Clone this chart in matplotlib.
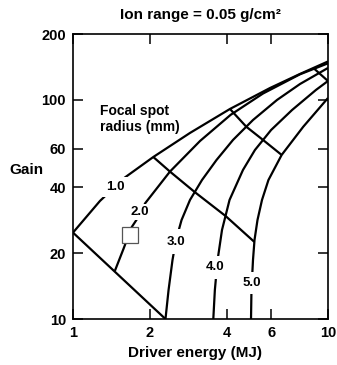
import matplotlib
matplotlib.use('Agg')
import matplotlib.pyplot as plt
from matplotlib.ticker import FixedLocator, NullLocator, FixedFormatter

plt.rcParams['font.family'] = ['Liberation Sans', 'DejaVu Sans']

# Gain curves for each focal spot radius (driver energy MJ, gain)
r1_energy = [1.0, 1.276, 1.599, 2.065, 2.876, 4.128, 5.925, 7.77, 10.0]
r1_gain = [24.8, 34.6, 44.3, 54.9, 70.7, 91.0, 113.4, 131.5, 149.9]

r2_energy = [1.46, 1.575, 1.70, 1.79, 1.92, 2.40, 3.15, 4.15, 5.56, 7.77, 10.0]
r2_gain = [16.6, 20.8, 26.3, 28.8, 33.8, 47.1, 65.0, 85.5, 107, 131, 147]

r3_energy = [2.305, 2.37, 2.456, 2.535, 2.665, 2.876, 3.205, 3.654, 4.242, 5.08, 6.31, 7.77, 10.0]
r3_gain = [10.0, 13.56, 18.6, 22.95, 28.3, 34.95, 43.1, 53.2, 65.7, 81.0, 100, 118.3, 140]

r4_energy = [3.55, 3.60, 3.69, 3.84, 4.11, 4.64, 5.17, 5.98, 7.23, 8.97, 10.0]
r4_gain = [10.0, 13.56, 18.6, 25.5, 34.95, 47.9, 59.1, 72.9, 90.0, 111.1, 122.1]

r5_energy = [4.99, 5.01, 5.08, 5.15, 5.29, 5.51, 5.84, 6.58, 8.0, 10.0]
r5_gain = [10.0, 13.56, 18.6, 22.95, 28.3, 34.95, 43.1, 56.1, 75.5, 102.1]

# cross lines joining the curves
lineA_energy = [1.0, 2.305]
lineA_gain = [24.8, 10.0]
lineB_energy = [2.065, 2.40, 3.0, 3.97, 5.14]
lineB_gain = [54.9, 47.1, 38.0, 29.5, 22.5]
lineC_energy = [4.128, 4.25, 4.78, 5.56, 6.58]
lineC_gain = [91.0, 87.6, 75.5, 65.7, 56.1]
lineD_energy = [8.76, 10.0]
lineD_gain = [140, 122]

curve_labels = ['1.0', '2.0', '3.0', '4.0', '5.0']
label_energy = [1.46, 1.83, 2.54, 3.62, 5.02]
label_gain = [40.2, 30.9, 22.5, 17.2, 14.6]
label_pads = [0.3, 0.15, 0.5, 0.4, 0.4]

square_energy = [1.67]
square_gain = [24.2]

x_ticks = [1, 2, 4, 6, 10]
y_ticks = [10, 20, 40, 60, 100, 200]

fig = plt.figure(figsize=(3.37, 3.65), dpi=100)
ax = fig.add_axes([0.2166, 0.126, 0.7567, 0.7808])
ax.set_xscale('log')
ax.set_yscale('log')
ax.set_xlim(1, 10)
ax.set_ylim(10, 200)

for xs, ys in [(r1_energy, r1_gain), (r2_energy, r2_gain), (r3_energy, r3_gain),
               (r4_energy, r4_gain), (r5_energy, r5_gain),
               (lineA_energy, lineA_gain), (lineB_energy, lineB_gain),
               (lineC_energy, lineC_gain), (lineD_energy, lineD_gain)]:
    ax.plot(xs, ys, color='black', lw=1.6, solid_joinstyle='round',
            solid_capstyle='butt', zorder=2)

for lab, lx, ly, p in zip(curve_labels, label_energy, label_gain, label_pads):
    ax.text(lx, ly, lab, ha='center', va='center', fontsize=9.5,
            fontweight='bold', zorder=4,
            bbox=dict(boxstyle='square,pad=%s' % p, fc='white', ec='none'))

ax.plot(square_energy, square_gain, marker='s', ms=12, mfc='white',
        mec='#555555', mew=0.9, ls='none', zorder=5)

ax.text(1.28, 82, 'Focal spot\nradius (mm)', ha='left', va='center',
        fontsize=10, fontweight='bold', linespacing=1.15)

ax.xaxis.set_major_locator(FixedLocator(x_ticks))
ax.xaxis.set_major_formatter(FixedFormatter([str(t) for t in x_ticks]))
ax.xaxis.set_minor_locator(NullLocator())
ax.yaxis.set_major_locator(FixedLocator(y_ticks))
ax.yaxis.set_major_formatter(FixedFormatter([str(t) for t in y_ticks]))
ax.yaxis.set_minor_locator(NullLocator())

ax.tick_params(direction='in', length=7, width=1.1, top=True, right=True,
               labelsize=10.5, pad=5)
for lbl in ax.get_xticklabels() + ax.get_yticklabels():
    lbl.set_fontweight('bold')
for sp in ax.spines.values():
    sp.set_linewidth(1.2)

ax.set_ylabel('Gain', rotation=0, fontsize=11, fontweight='bold',
              ha='center', va='center')
ax.yaxis.set_label_coords(-0.184, 0.523)
ax.set_xlabel('Driver energy (MJ)', fontsize=11, fontweight='bold', va='center')
ax.xaxis.set_label_coords(0.478, -0.119)

ax.text(0.498, 1.067, 'Ion range = 0.05 g/cm²', transform=ax.transAxes,
        ha='center', va='center', fontsize=11, fontweight='bold')

fig.savefig('out.png', dpi=100)
